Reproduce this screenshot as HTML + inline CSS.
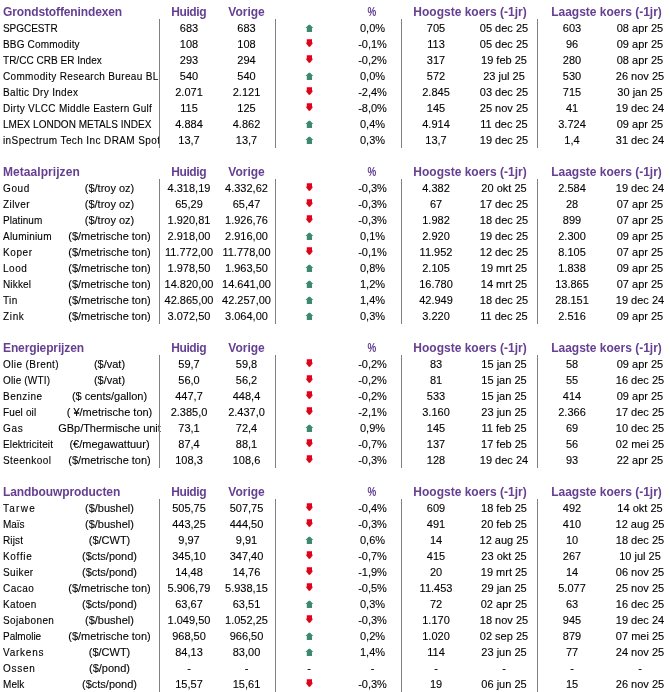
<!DOCTYPE html><html><head><meta charset="utf-8"><style>
html,body{margin:0;padding:0;background:#fff;}
body{will-change:transform;width:670px;height:692px;position:relative;overflow:hidden;font-family:"Liberation Sans",sans-serif;color:#000;}
.r{-webkit-text-stroke:0.1px currentColor;position:absolute;left:0;width:670px;height:16px;line-height:16px;font-size:11px;white-space:nowrap;}
.c{position:absolute;top:0;width:120px;text-align:center;}
.n{position:absolute;top:1px;left:3px;width:156px;overflow:hidden;font-size:10px;}
.h{-webkit-text-stroke:0px currentColor;font-weight:bold;color:#653f92;font-size:12px;letter-spacing:0px;}
.hn{position:absolute;top:0;left:3px;}
.v{position:absolute;width:1px;background:#808080;}
.a{position:absolute;overflow:visible;}

</style></head><body>
<div class="r h" style="top:4px"><span class="hn" style="letter-spacing:-0.12px">Grondstoffenindexen</span><span class="c" style="left:128.7px;letter-spacing:-0.4px">Huidig</span><span class="c" style="left:186.5px">Vorige</span><span class="c" style="left:311.9px;transform:scaleX(0.82)">%</span><span class="c" style="left:390px;width:160px">Hoogste koers (-1jr)</span><span class="c" style="left:526.5px;width:160px">Laagste koers (-1jr)</span></div>
<div class="r" style="top:20px"><span class="n" style="letter-spacing:-0.052px">SPGCESTR</span><span class="c" style="left:129px">683</span><span class="c" style="left:186.5px">683</span><svg class="a" style="left:305px;top:5px" width="8" height="8" viewBox="0 0 8 8"><polygon points="3.7,-0.2 5.1,-0.2 8.2,3.1 7,3.1 7,7 1.8,7 1.8,3.1 0.5,3.1" fill="#3a8a6c"/></svg><span class="c" style="left:312.5px">0,0%</span><span class="c" style="left:376px">705</span><span class="c" style="left:444px">05 dec 25</span><span class="c" style="left:512px">603</span><span class="c" style="left:580px">08 apr 25</span></div>
<div class="r" style="top:36px"><span class="n" style="letter-spacing:0.18px">BBG Commodity</span><span class="c" style="left:129px">108</span><span class="c" style="left:186.5px">108</span><svg class="a" style="left:305px;top:4px" width="8" height="8" viewBox="0 0 8 8"><polygon points="1.8,-0.7 7,-0.7 7,2.8 8.1,2.8 5.1,6.8 3.7,6.8 0.7,2.8 1.8,2.8" fill="#e2001c"/></svg><span class="c" style="left:312.5px">-0,1%</span><span class="c" style="left:376px">113</span><span class="c" style="left:444px">05 dec 25</span><span class="c" style="left:512px">96</span><span class="c" style="left:580px">09 apr 25</span></div>
<div class="r" style="top:52px"><span class="n" style="letter-spacing:0.022px">TR/CC CRB ER Index</span><span class="c" style="left:129px">293</span><span class="c" style="left:186.5px">294</span><svg class="a" style="left:305px;top:4px" width="8" height="8" viewBox="0 0 8 8"><polygon points="1.8,-0.7 7,-0.7 7,2.8 8.1,2.8 5.1,6.8 3.7,6.8 0.7,2.8 1.8,2.8" fill="#e2001c"/></svg><span class="c" style="left:312.5px">-0,2%</span><span class="c" style="left:376px">317</span><span class="c" style="left:444px">19 feb 25</span><span class="c" style="left:512px">280</span><span class="c" style="left:580px">08 apr 25</span></div>
<div class="r" style="top:68px"><span class="n" style="letter-spacing:0.337px">Commodity Research Bureau<span style="visibility:visible"> BLS/US Spot All</span></span><span class="c" style="left:129px">540</span><span class="c" style="left:186.5px">540</span><svg class="a" style="left:305px;top:5px" width="8" height="8" viewBox="0 0 8 8"><polygon points="3.7,-0.2 5.1,-0.2 8.2,3.1 7,3.1 7,7 1.8,7 1.8,3.1 0.5,3.1" fill="#3a8a6c"/></svg><span class="c" style="left:312.5px">0,0%</span><span class="c" style="left:376px">572</span><span class="c" style="left:444px">23 jul 25</span><span class="c" style="left:512px">530</span><span class="c" style="left:580px">26 nov 25</span></div>
<div class="r" style="top:84px"><span class="n" style="letter-spacing:0.324px">Baltic Dry Index</span><span class="c" style="left:129px">2.071</span><span class="c" style="left:186.5px">2.121</span><svg class="a" style="left:305px;top:4px" width="8" height="8" viewBox="0 0 8 8"><polygon points="1.8,-0.7 7,-0.7 7,2.8 8.1,2.8 5.1,6.8 3.7,6.8 0.7,2.8 1.8,2.8" fill="#e2001c"/></svg><span class="c" style="left:312.5px">-2,4%</span><span class="c" style="left:376px">2.845</span><span class="c" style="left:444px">03 dec 25</span><span class="c" style="left:512px">715</span><span class="c" style="left:580px">30 jan 25</span></div>
<div class="r" style="top:100px"><span class="n" style="letter-spacing:0.286px">Dirty VLCC Middle Eastern Gulf</span><span class="c" style="left:129px">115</span><span class="c" style="left:186.5px">125</span><svg class="a" style="left:305px;top:4px" width="8" height="8" viewBox="0 0 8 8"><polygon points="1.8,-0.7 7,-0.7 7,2.8 8.1,2.8 5.1,6.8 3.7,6.8 0.7,2.8 1.8,2.8" fill="#e2001c"/></svg><span class="c" style="left:312.5px">-8,0%</span><span class="c" style="left:376px">145</span><span class="c" style="left:444px">25 nov 25</span><span class="c" style="left:512px">41</span><span class="c" style="left:580px">19 dec 24</span></div>
<div class="r" style="top:116px"><span class="n" style="letter-spacing:0.009px">LMEX LONDON METALS INDEX</span><span class="c" style="left:129px">4.884</span><span class="c" style="left:186.5px">4.862</span><svg class="a" style="left:305px;top:5px" width="8" height="8" viewBox="0 0 8 8"><polygon points="3.7,-0.2 5.1,-0.2 8.2,3.1 7,3.1 7,7 1.8,7 1.8,3.1 0.5,3.1" fill="#3a8a6c"/></svg><span class="c" style="left:312.5px">0,4%</span><span class="c" style="left:376px">4.914</span><span class="c" style="left:444px">11 dec 25</span><span class="c" style="left:512px">3.724</span><span class="c" style="left:580px">09 apr 25</span></div>
<div class="r" style="top:132px"><span class="n" style="letter-spacing:0.393px">inSpectrum Tech Inc DRAM Spot</span><span class="c" style="left:129px">13,7</span><span class="c" style="left:186.5px">13,7</span><svg class="a" style="left:305px;top:5px" width="8" height="8" viewBox="0 0 8 8"><polygon points="3.7,-0.2 5.1,-0.2 8.2,3.1 7,3.1 7,7 1.8,7 1.8,3.1 0.5,3.1" fill="#3a8a6c"/></svg><span class="c" style="left:312.5px">0,3%</span><span class="c" style="left:376px">13,7</span><span class="c" style="left:444px">19 dec 25</span><span class="c" style="left:512px">1,4</span><span class="c" style="left:580px">31 dec 24</span></div>
<div class="v" style="left:159px;top:19px;height:129px"></div>
<div class="v" style="left:275px;top:19px;height:129px"></div>
<div class="v" style="left:401px;top:19px;height:129px"></div>
<div class="v" style="left:537px;top:19px;height:129px"></div>
<div class="r h" style="top:164px"><span class="hn" style="letter-spacing:0.06px">Metaalprijzen</span><span class="c" style="left:128.7px;letter-spacing:-0.4px">Huidig</span><span class="c" style="left:186.5px">Vorige</span><span class="c" style="left:311.9px;transform:scaleX(0.82)">%</span><span class="c" style="left:390px;width:160px">Hoogste koers (-1jr)</span><span class="c" style="left:526.5px;width:160px">Laagste koers (-1jr)</span></div>
<div class="r" style="top:180px"><span class="n" style="letter-spacing:0.6px">Goud</span><span class="c" style="left:49.5px">($/troy oz)</span><span class="c" style="left:129px">4.318,19</span><span class="c" style="left:186.5px">4.332,62</span><svg class="a" style="left:305px;top:4px" width="8" height="8" viewBox="0 0 8 8"><polygon points="1.8,-0.7 7,-0.7 7,2.8 8.1,2.8 5.1,6.8 3.7,6.8 0.7,2.8 1.8,2.8" fill="#e2001c"/></svg><span class="c" style="left:312.5px">-0,3%</span><span class="c" style="left:376px">4.382</span><span class="c" style="left:444px">20 okt 25</span><span class="c" style="left:512px">2.584</span><span class="c" style="left:580px">19 dec 24</span></div>
<div class="r" style="top:196px"><span class="n" style="letter-spacing:0.432px">Zilver</span><span class="c" style="left:49.5px">($/troy oz)</span><span class="c" style="left:129px">65,29</span><span class="c" style="left:186.5px">65,47</span><svg class="a" style="left:305px;top:4px" width="8" height="8" viewBox="0 0 8 8"><polygon points="1.8,-0.7 7,-0.7 7,2.8 8.1,2.8 5.1,6.8 3.7,6.8 0.7,2.8 1.8,2.8" fill="#e2001c"/></svg><span class="c" style="left:312.5px">-0,3%</span><span class="c" style="left:376px">67</span><span class="c" style="left:444px">17 dec 25</span><span class="c" style="left:512px">28</span><span class="c" style="left:580px">07 apr 25</span></div>
<div class="r" style="top:212px"><span class="n" style="letter-spacing:0.051px">Platinum</span><span class="c" style="left:49.5px">($/troy oz)</span><span class="c" style="left:129px">1.920,81</span><span class="c" style="left:186.5px">1.926,76</span><svg class="a" style="left:305px;top:4px" width="8" height="8" viewBox="0 0 8 8"><polygon points="1.8,-0.7 7,-0.7 7,2.8 8.1,2.8 5.1,6.8 3.7,6.8 0.7,2.8 1.8,2.8" fill="#e2001c"/></svg><span class="c" style="left:312.5px">-0,3%</span><span class="c" style="left:376px">1.982</span><span class="c" style="left:444px">18 dec 25</span><span class="c" style="left:512px">899</span><span class="c" style="left:580px">07 apr 25</span></div>
<div class="r" style="top:228px"><span class="n" style="letter-spacing:0.225px">Aluminium</span><span class="c" style="left:49.5px">($/metrische ton)</span><span class="c" style="left:129px">2.918,00</span><span class="c" style="left:186.5px">2.916,00</span><svg class="a" style="left:305px;top:5px" width="8" height="8" viewBox="0 0 8 8"><polygon points="3.7,-0.2 5.1,-0.2 8.2,3.1 7,3.1 7,7 1.8,7 1.8,3.1 0.5,3.1" fill="#3a8a6c"/></svg><span class="c" style="left:312.5px">0,1%</span><span class="c" style="left:376px">2.920</span><span class="c" style="left:444px">19 dec 25</span><span class="c" style="left:512px">2.300</span><span class="c" style="left:580px">09 apr 25</span></div>
<div class="r" style="top:244px"><span class="n" style="letter-spacing:0.583px">Koper</span><span class="c" style="left:49.5px">($/metrische ton)</span><span class="c" style="left:129px">11.772,00</span><span class="c" style="left:186.5px">11.778,00</span><svg class="a" style="left:305px;top:4px" width="8" height="8" viewBox="0 0 8 8"><polygon points="1.8,-0.7 7,-0.7 7,2.8 8.1,2.8 5.1,6.8 3.7,6.8 0.7,2.8 1.8,2.8" fill="#e2001c"/></svg><span class="c" style="left:312.5px">-0,1%</span><span class="c" style="left:376px">11.952</span><span class="c" style="left:444px">12 dec 25</span><span class="c" style="left:512px">8.105</span><span class="c" style="left:580px">07 apr 25</span></div>
<div class="r" style="top:260px"><span class="n" style="letter-spacing:0.54px">Lood</span><span class="c" style="left:49.5px">($/metrische ton)</span><span class="c" style="left:129px">1.978,50</span><span class="c" style="left:186.5px">1.963,50</span><svg class="a" style="left:305px;top:5px" width="8" height="8" viewBox="0 0 8 8"><polygon points="3.7,-0.2 5.1,-0.2 8.2,3.1 7,3.1 7,7 1.8,7 1.8,3.1 0.5,3.1" fill="#3a8a6c"/></svg><span class="c" style="left:312.5px">0,8%</span><span class="c" style="left:376px">2.105</span><span class="c" style="left:444px">19 mrt 25</span><span class="c" style="left:512px">1.838</span><span class="c" style="left:580px">09 apr 25</span></div>
<div class="r" style="top:276px"><span class="n" style="letter-spacing:0.144px">Nikkel</span><span class="c" style="left:49.5px">($/metrische ton)</span><span class="c" style="left:129px">14.820,00</span><span class="c" style="left:186.5px">14.641,00</span><svg class="a" style="left:305px;top:5px" width="8" height="8" viewBox="0 0 8 8"><polygon points="3.7,-0.2 5.1,-0.2 8.2,3.1 7,3.1 7,7 1.8,7 1.8,3.1 0.5,3.1" fill="#3a8a6c"/></svg><span class="c" style="left:312.5px">1,2%</span><span class="c" style="left:376px">16.780</span><span class="c" style="left:444px">14 mrt 25</span><span class="c" style="left:512px">13.865</span><span class="c" style="left:580px">07 apr 25</span></div>
<div class="r" style="top:292px"><span class="n" style="letter-spacing:0.36px">Tin</span><span class="c" style="left:49.5px">($/metrische ton)</span><span class="c" style="left:129px">42.865,00</span><span class="c" style="left:186.5px">42.257,00</span><svg class="a" style="left:305px;top:5px" width="8" height="8" viewBox="0 0 8 8"><polygon points="3.7,-0.2 5.1,-0.2 8.2,3.1 7,3.1 7,7 1.8,7 1.8,3.1 0.5,3.1" fill="#3a8a6c"/></svg><span class="c" style="left:312.5px">1,4%</span><span class="c" style="left:376px">42.949</span><span class="c" style="left:444px">18 dec 25</span><span class="c" style="left:512px">28.151</span><span class="c" style="left:580px">19 dec 24</span></div>
<div class="r" style="top:308px"><span class="n" style="letter-spacing:0.66px">Zink</span><span class="c" style="left:49.5px">($/metrische ton)</span><span class="c" style="left:129px">3.072,50</span><span class="c" style="left:186.5px">3.064,00</span><svg class="a" style="left:305px;top:5px" width="8" height="8" viewBox="0 0 8 8"><polygon points="3.7,-0.2 5.1,-0.2 8.2,3.1 7,3.1 7,7 1.8,7 1.8,3.1 0.5,3.1" fill="#3a8a6c"/></svg><span class="c" style="left:312.5px">0,3%</span><span class="c" style="left:376px">3.220</span><span class="c" style="left:444px">11 dec 25</span><span class="c" style="left:512px">2.516</span><span class="c" style="left:580px">09 apr 25</span></div>
<div class="v" style="left:159px;top:179px;height:145px"></div>
<div class="v" style="left:275px;top:179px;height:145px"></div>
<div class="v" style="left:401px;top:179px;height:145px"></div>
<div class="v" style="left:537px;top:179px;height:145px"></div>
<div class="r h" style="top:340px"><span class="hn" style="letter-spacing:-0.125px">Energieprijzen</span><span class="c" style="left:128.7px;letter-spacing:-0.4px">Huidig</span><span class="c" style="left:186.5px">Vorige</span><span class="c" style="left:311.9px;transform:scaleX(0.82)">%</span><span class="c" style="left:390px;width:160px">Hoogste koers (-1jr)</span><span class="c" style="left:526.5px;width:160px">Laagste koers (-1jr)</span></div>
<div class="r" style="top:356px"><span class="n" style="letter-spacing:0.409px">Olie (Brent)</span><span class="c" style="left:49.5px">($/vat)</span><span class="c" style="left:129px">59,7</span><span class="c" style="left:186.5px">59,8</span><svg class="a" style="left:305px;top:4px" width="8" height="8" viewBox="0 0 8 8"><polygon points="1.8,-0.7 7,-0.7 7,2.8 8.1,2.8 5.1,6.8 3.7,6.8 0.7,2.8 1.8,2.8" fill="#e2001c"/></svg><span class="c" style="left:312.5px">-0,2%</span><span class="c" style="left:376px">83</span><span class="c" style="left:444px">15 jan 25</span><span class="c" style="left:512px">58</span><span class="c" style="left:580px">09 apr 25</span></div>
<div class="r" style="top:372px"><span class="n" style="letter-spacing:0.16px">Olie (WTI)</span><span class="c" style="left:49.5px">($/vat)</span><span class="c" style="left:129px">56,0</span><span class="c" style="left:186.5px">56,2</span><svg class="a" style="left:305px;top:4px" width="8" height="8" viewBox="0 0 8 8"><polygon points="1.8,-0.7 7,-0.7 7,2.8 8.1,2.8 5.1,6.8 3.7,6.8 0.7,2.8 1.8,2.8" fill="#e2001c"/></svg><span class="c" style="left:312.5px">-0,2%</span><span class="c" style="left:376px">81</span><span class="c" style="left:444px">15 jan 25</span><span class="c" style="left:512px">55</span><span class="c" style="left:580px">16 dec 25</span></div>
<div class="r" style="top:388px"><span class="n" style="letter-spacing:0.48px">Benzine</span><span class="c" style="left:49.5px">($ cents/gallon)</span><span class="c" style="left:129px">447,7</span><span class="c" style="left:186.5px">448,4</span><svg class="a" style="left:305px;top:4px" width="8" height="8" viewBox="0 0 8 8"><polygon points="1.8,-0.7 7,-0.7 7,2.8 8.1,2.8 5.1,6.8 3.7,6.8 0.7,2.8 1.8,2.8" fill="#e2001c"/></svg><span class="c" style="left:312.5px">-0,2%</span><span class="c" style="left:376px">533</span><span class="c" style="left:444px">15 jan 25</span><span class="c" style="left:512px">414</span><span class="c" style="left:580px">09 apr 25</span></div>
<div class="r" style="top:404px"><span class="n" style="letter-spacing:0.129px">Fuel oil</span><span class="c" style="left:49.5px">( ¥/metrische ton)</span><span class="c" style="left:129px">2.385,0</span><span class="c" style="left:186.5px">2.437,0</span><svg class="a" style="left:305px;top:4px" width="8" height="8" viewBox="0 0 8 8"><polygon points="1.8,-0.7 7,-0.7 7,2.8 8.1,2.8 5.1,6.8 3.7,6.8 0.7,2.8 1.8,2.8" fill="#e2001c"/></svg><span class="c" style="left:312.5px">-2,1%</span><span class="c" style="left:376px">3.160</span><span class="c" style="left:444px">23 jun 25</span><span class="c" style="left:512px">2.366</span><span class="c" style="left:580px">17 dec 25</span></div>
<div class="r" style="top:420px"><span class="n" style="letter-spacing:0.72px">Gas</span><span class="c" style="left:49.5px;letter-spacing:-0.05px">GBp/Thermische unit</span><span class="c" style="left:129px">73,1</span><span class="c" style="left:186.5px">72,4</span><svg class="a" style="left:305px;top:5px" width="8" height="8" viewBox="0 0 8 8"><polygon points="3.7,-0.2 5.1,-0.2 8.2,3.1 7,3.1 7,7 1.8,7 1.8,3.1 0.5,3.1" fill="#3a8a6c"/></svg><span class="c" style="left:312.5px">0,9%</span><span class="c" style="left:376px">145</span><span class="c" style="left:444px">11 feb 25</span><span class="c" style="left:512px">69</span><span class="c" style="left:580px">10 dec 25</span></div>
<div class="r" style="top:436px"><span class="n" style="letter-spacing:0.135px">Elektriciteit</span><span class="c" style="left:49.5px">(€/megawattuur)</span><span class="c" style="left:129px">87,4</span><span class="c" style="left:186.5px">88,1</span><svg class="a" style="left:305px;top:4px" width="8" height="8" viewBox="0 0 8 8"><polygon points="1.8,-0.7 7,-0.7 7,2.8 8.1,2.8 5.1,6.8 3.7,6.8 0.7,2.8 1.8,2.8" fill="#e2001c"/></svg><span class="c" style="left:312.5px">-0,7%</span><span class="c" style="left:376px">137</span><span class="c" style="left:444px">17 feb 25</span><span class="c" style="left:512px">56</span><span class="c" style="left:580px">02 mei 25</span></div>
<div class="r" style="top:452px"><span class="n" style="letter-spacing:0.429px">Steenkool</span><span class="c" style="left:49.5px">($/metrische ton)</span><span class="c" style="left:129px">108,3</span><span class="c" style="left:186.5px">108,6</span><svg class="a" style="left:305px;top:4px" width="8" height="8" viewBox="0 0 8 8"><polygon points="1.8,-0.7 7,-0.7 7,2.8 8.1,2.8 5.1,6.8 3.7,6.8 0.7,2.8 1.8,2.8" fill="#e2001c"/></svg><span class="c" style="left:312.5px">-0,3%</span><span class="c" style="left:376px">128</span><span class="c" style="left:444px">19 dec 24</span><span class="c" style="left:512px">93</span><span class="c" style="left:580px">22 apr 25</span></div>
<div class="v" style="left:159px;top:355px;height:113px"></div>
<div class="v" style="left:275px;top:355px;height:113px"></div>
<div class="v" style="left:401px;top:355px;height:113px"></div>
<div class="v" style="left:537px;top:355px;height:113px"></div>
<div class="r h" style="top:484px"><span class="hn" style="letter-spacing:-0.089px">Landbouwproducten</span><span class="c" style="left:128.7px;letter-spacing:-0.4px">Huidig</span><span class="c" style="left:186.5px">Vorige</span><span class="c" style="left:311.9px;transform:scaleX(0.82)">%</span><span class="c" style="left:390px;width:160px">Hoogste koers (-1jr)</span><span class="c" style="left:526.5px;width:160px">Laagste koers (-1jr)</span></div>
<div class="r" style="top:500px"><span class="n" style="letter-spacing:1.26px">Tarwe</span><span class="c" style="left:49.5px">($/bushel)</span><span class="c" style="left:129px">505,75</span><span class="c" style="left:186.5px">507,75</span><svg class="a" style="left:305px;top:4px" width="8" height="8" viewBox="0 0 8 8"><polygon points="1.8,-0.7 7,-0.7 7,2.8 8.1,2.8 5.1,6.8 3.7,6.8 0.7,2.8 1.8,2.8" fill="#e2001c"/></svg><span class="c" style="left:312.5px">-0,4%</span><span class="c" style="left:376px">609</span><span class="c" style="left:444px">18 feb 25</span><span class="c" style="left:512px">492</span><span class="c" style="left:580px">14 okt 25</span></div>
<div class="r" style="top:516px"><span class="n" style="letter-spacing:-0.06px">Maïs</span><span class="c" style="left:49.5px">($/bushel)</span><span class="c" style="left:129px">443,25</span><span class="c" style="left:186.5px">444,50</span><svg class="a" style="left:305px;top:4px" width="8" height="8" viewBox="0 0 8 8"><polygon points="1.8,-0.7 7,-0.7 7,2.8 8.1,2.8 5.1,6.8 3.7,6.8 0.7,2.8 1.8,2.8" fill="#e2001c"/></svg><span class="c" style="left:312.5px">-0,3%</span><span class="c" style="left:376px">491</span><span class="c" style="left:444px">20 feb 25</span><span class="c" style="left:512px">410</span><span class="c" style="left:580px">12 aug 25</span></div>
<div class="r" style="top:532px"><span class="n" style="letter-spacing:0.133px">Rijst</span><span class="c" style="left:49.5px">($/CWT)</span><span class="c" style="left:129px">9,97</span><span class="c" style="left:186.5px">9,91</span><svg class="a" style="left:305px;top:5px" width="8" height="8" viewBox="0 0 8 8"><polygon points="3.7,-0.2 5.1,-0.2 8.2,3.1 7,3.1 7,7 1.8,7 1.8,3.1 0.5,3.1" fill="#3a8a6c"/></svg><span class="c" style="left:312.5px">0,6%</span><span class="c" style="left:376px">14</span><span class="c" style="left:444px">12 aug 25</span><span class="c" style="left:512px">10</span><span class="c" style="left:580px">18 dec 25</span></div>
<div class="r" style="top:548px"><span class="n" style="letter-spacing:0.684px">Koffie</span><span class="c" style="left:49.5px">($cts/pond)</span><span class="c" style="left:129px">345,10</span><span class="c" style="left:186.5px">347,40</span><svg class="a" style="left:305px;top:4px" width="8" height="8" viewBox="0 0 8 8"><polygon points="1.8,-0.7 7,-0.7 7,2.8 8.1,2.8 5.1,6.8 3.7,6.8 0.7,2.8 1.8,2.8" fill="#e2001c"/></svg><span class="c" style="left:312.5px">-0,7%</span><span class="c" style="left:376px">415</span><span class="c" style="left:444px">23 okt 25</span><span class="c" style="left:512px">267</span><span class="c" style="left:580px">10 jul 25</span></div>
<div class="r" style="top:564px"><span class="n" style="letter-spacing:0.36px">Suiker</span><span class="c" style="left:49.5px">($cts/pond)</span><span class="c" style="left:129px">14,48</span><span class="c" style="left:186.5px">14,76</span><svg class="a" style="left:305px;top:4px" width="8" height="8" viewBox="0 0 8 8"><polygon points="1.8,-0.7 7,-0.7 7,2.8 8.1,2.8 5.1,6.8 3.7,6.8 0.7,2.8 1.8,2.8" fill="#e2001c"/></svg><span class="c" style="left:312.5px">-1,9%</span><span class="c" style="left:376px">20</span><span class="c" style="left:444px">19 mrt 25</span><span class="c" style="left:512px">14</span><span class="c" style="left:580px">06 nov 25</span></div>
<div class="r" style="top:580px"><span class="n" style="letter-spacing:0.451px">Cacao</span><span class="c" style="left:49.5px">($/metrische ton)</span><span class="c" style="left:129px">5.906,79</span><span class="c" style="left:186.5px">5.938,15</span><svg class="a" style="left:305px;top:4px" width="8" height="8" viewBox="0 0 8 8"><polygon points="1.8,-0.7 7,-0.7 7,2.8 8.1,2.8 5.1,6.8 3.7,6.8 0.7,2.8 1.8,2.8" fill="#e2001c"/></svg><span class="c" style="left:312.5px">-0,5%</span><span class="c" style="left:376px">11.453</span><span class="c" style="left:444px">29 jan 25</span><span class="c" style="left:512px">5.077</span><span class="c" style="left:580px">25 nov 25</span></div>
<div class="r" style="top:596px"><span class="n" style="letter-spacing:0.324px">Katoen</span><span class="c" style="left:49.5px">($cts/pond)</span><span class="c" style="left:129px">63,67</span><span class="c" style="left:186.5px">63,51</span><svg class="a" style="left:305px;top:5px" width="8" height="8" viewBox="0 0 8 8"><polygon points="3.7,-0.2 5.1,-0.2 8.2,3.1 7,3.1 7,7 1.8,7 1.8,3.1 0.5,3.1" fill="#3a8a6c"/></svg><span class="c" style="left:312.5px">0,3%</span><span class="c" style="left:376px">72</span><span class="c" style="left:444px">02 apr 25</span><span class="c" style="left:512px">63</span><span class="c" style="left:580px">16 dec 25</span></div>
<div class="r" style="top:612px"><span class="n" style="letter-spacing:0.383px">Sojabonen</span><span class="c" style="left:49.5px">($/bushel)</span><span class="c" style="left:129px">1.049,50</span><span class="c" style="left:186.5px">1.052,25</span><svg class="a" style="left:305px;top:4px" width="8" height="8" viewBox="0 0 8 8"><polygon points="1.8,-0.7 7,-0.7 7,2.8 8.1,2.8 5.1,6.8 3.7,6.8 0.7,2.8 1.8,2.8" fill="#e2001c"/></svg><span class="c" style="left:312.5px">-0,3%</span><span class="c" style="left:376px">1.170</span><span class="c" style="left:444px">18 nov 25</span><span class="c" style="left:512px">945</span><span class="c" style="left:580px">19 dec 24</span></div>
<div class="r" style="top:628px"><span class="n" style="letter-spacing:-0.027px">Palmolie</span><span class="c" style="left:49.5px">($/metrische ton)</span><span class="c" style="left:129px">968,50</span><span class="c" style="left:186.5px">966,50</span><svg class="a" style="left:305px;top:5px" width="8" height="8" viewBox="0 0 8 8"><polygon points="3.7,-0.2 5.1,-0.2 8.2,3.1 7,3.1 7,7 1.8,7 1.8,3.1 0.5,3.1" fill="#3a8a6c"/></svg><span class="c" style="left:312.5px">0,2%</span><span class="c" style="left:376px">1.020</span><span class="c" style="left:444px">02 sep 25</span><span class="c" style="left:512px">879</span><span class="c" style="left:580px">07 mei 25</span></div>
<div class="r" style="top:644px"><span class="n" style="letter-spacing:0.75px">Varkens</span><span class="c" style="left:49.5px">($/CWT)</span><span class="c" style="left:129px">84,13</span><span class="c" style="left:186.5px">83,00</span><svg class="a" style="left:305px;top:5px" width="8" height="8" viewBox="0 0 8 8"><polygon points="3.7,-0.2 5.1,-0.2 8.2,3.1 7,3.1 7,7 1.8,7 1.8,3.1 0.5,3.1" fill="#3a8a6c"/></svg><span class="c" style="left:312.5px">1,4%</span><span class="c" style="left:376px">114</span><span class="c" style="left:444px">23 jun 25</span><span class="c" style="left:512px">77</span><span class="c" style="left:580px">24 nov 25</span></div>
<div class="r" style="top:660px"><span class="n" style="letter-spacing:0.718px">Ossen</span><span class="c" style="left:49.5px">($/pond)</span><span class="c" style="left:129px">-</span><span class="c" style="left:186.5px">-</span><span class="c" style="left:249px">-</span><span class="c" style="left:312.5px">-</span><span class="c" style="left:376px">-</span><span class="c" style="left:444px">-</span><span class="c" style="left:512px">-</span><span class="c" style="left:580px">-</span></div>
<div class="r" style="top:676px"><span class="n" style="letter-spacing:0.06px">Melk</span><span class="c" style="left:49.5px">($cts/pond)</span><span class="c" style="left:129px">15,57</span><span class="c" style="left:186.5px">15,61</span><svg class="a" style="left:305px;top:4px" width="8" height="8" viewBox="0 0 8 8"><polygon points="1.8,-0.7 7,-0.7 7,2.8 8.1,2.8 5.1,6.8 3.7,6.8 0.7,2.8 1.8,2.8" fill="#e2001c"/></svg><span class="c" style="left:312.5px">-0,3%</span><span class="c" style="left:376px">19</span><span class="c" style="left:444px">06 jun 25</span><span class="c" style="left:512px">15</span><span class="c" style="left:580px">26 nov 25</span></div>
<div class="v" style="left:159px;top:499px;height:193px"></div>
<div class="v" style="left:275px;top:499px;height:193px"></div>
<div class="v" style="left:401px;top:499px;height:193px"></div>
<div class="v" style="left:537px;top:499px;height:193px"></div>
</body></html>
